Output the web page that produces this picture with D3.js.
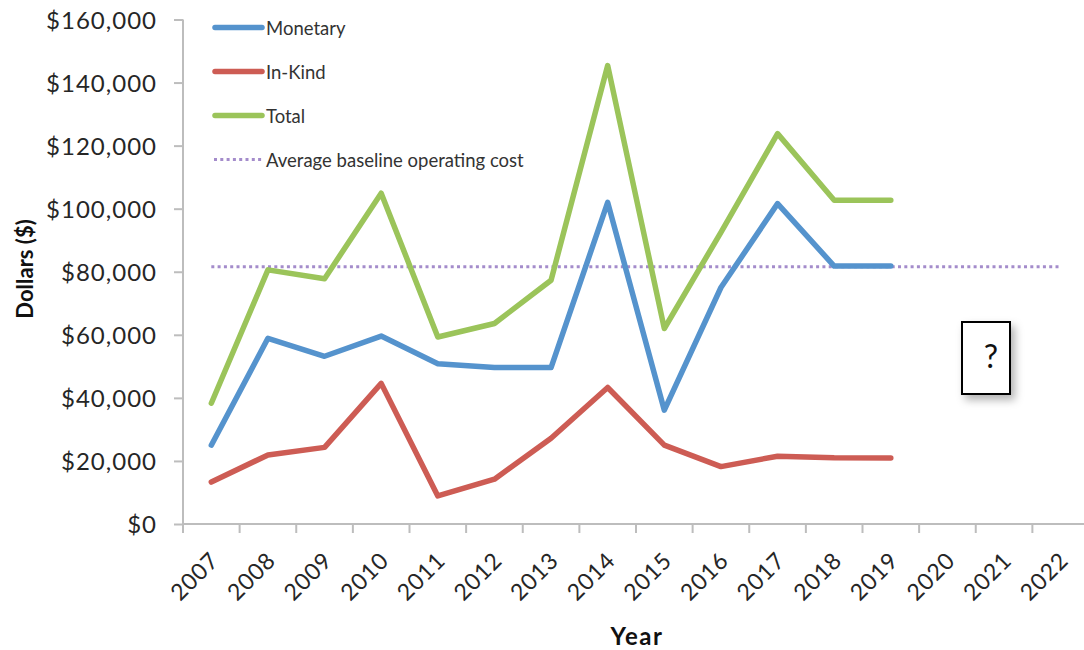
<!DOCTYPE html>
<html>
<head>
<meta charset="utf-8">
<script src="https://cdn.jsdelivr.net/npm/d3@7"></script>
<style>
  html, body { margin: 0; padding: 0; background: #fff; }
  svg { display: block; font-family: Lato, "Open Sans", sans-serif; }
</style>
</head>
<body>
<svg id="chart" width="1084" height="650"></svg>
<script>
// Funding by year: monetary, in-kind, total, and the average baseline operating cost
const years = ["2007","2008","2009","2010","2011","2012","2013","2014","2015","2016","2017","2018","2019","2020","2021","2022"];
const monetary = [25000, 58900, 53200, 59600, 50800, 49600, 49600, 102000, 36100, 75000, 101600, 81800, 81800];
const inKind   = [13300, 21900, 24300, 44600, 8900, 14200, 27200, 43300, 25000, 18200, 21500, 21000, 20900];
const total    = [38300, 80600, 77800, 104900, 59300, 63600, 77300, 145400, 62000, 92500, 123800, 102700, 102700];
const baseline = years.map(() => 81600);
const yTicks = [0, 20000, 40000, 60000, 80000, 100000, 120000, 140000, 160000];

const seriesNames = ["Monetary", "In-Kind", "Total", "Average baseline operating cost"];
const colors = { "Monetary": "#5593cd", "In-Kind": "#cd5c54", "Total": "#9bc45a", "Average baseline operating cost": "#a48ccb" };

const svg = d3.select("#chart");
const plot = { left: 183, right: 1089, top: 19.5, bottom: 524 };

const x = d3.scaleBand().domain(years).range([plot.left, plot.right]).padding(0);
const y = d3.scaleLinear().domain([0, 160000]).range([plot.bottom, plot.top]);
const cx = d => x(d) + x.bandwidth() / 2;

const axisColor = "#bdbdbd";
const textColor = "#262626";

// Y axis
const yAxis = svg.append("g")
  .attr("transform", `translate(${plot.left},0)`)
  .call(d3.axisLeft(y).tickValues(yTicks).tickFormat(d3.format("$,")).tickSize(9).tickPadding(17));
yAxis.attr("font-family", null).attr("font-size", null);
yAxis.select(".domain").attr("stroke", axisColor).attr("stroke-width", 2).attr("d", `M0,${plot.top}V${plot.bottom}`);
yAxis.selectAll(".tick line").attr("stroke", axisColor).attr("stroke-width", 2);
yAxis.selectAll(".tick text").attr("fill", textColor)
  .style("font-size", "24px").style("letter-spacing", "1px").attr("dy", "0.36em");

// X axis line with category boundary ticks
const xg = svg.append("g");
xg.append("line")
  .attr("x1", plot.left - 1).attr("x2", plot.right)
  .attr("y1", plot.bottom).attr("y2", plot.bottom)
  .attr("stroke", axisColor).attr("stroke-width", 2);
const bounds = years.map(d => x(d)).concat([x(years[years.length - 1]) + x.bandwidth()]);
xg.selectAll("line.tk").data(bounds).join("line").attr("class", "tk")
  .attr("x1", d => d).attr("x2", d => d)
  .attr("y1", plot.bottom).attr("y2", plot.bottom + 9)
  .attr("stroke", axisColor).attr("stroke-width", 2);
xg.selectAll("text.yr").data(years).join("text").attr("class", "yr")
  .attr("transform", d => `translate(${cx(d) + 9},${plot.bottom + 38}) rotate(-45)`)
  .attr("text-anchor", "end")
  .attr("fill", textColor)
  .style("font-size", "23px").style("letter-spacing", "0.8px")
  .text(d => d);

// Axis titles
svg.append("text")
  .attr("x", 637).attr("y", 645)
  .attr("text-anchor", "middle").style("font-size", "24px").style("font-weight", "bold")
  .style("letter-spacing", "1.5px")
  .attr("fill", "#111").text("Year");
svg.append("text")
  .attr("transform", `translate(33,269) rotate(-90)`)
  .attr("text-anchor", "middle").style("font-size", "22px").style("font-weight", "bold")
  .attr("fill", "#111").text("Dollars ($)");

// Lines
const line = d3.line().x((d, i) => cx(years[i])).y(d => y(d));
svg.append("path").datum(baseline).attr("d", line)
  .attr("fill", "none").attr("stroke", colors["Average baseline operating cost"])
  .attr("stroke-width", 3).attr("stroke-dasharray", "3,3.3");
[["Total", total], ["Monetary", monetary], ["In-Kind", inKind]].forEach(([name, vals]) => {
  svg.append("path").datum(vals).attr("d", line)
    .attr("fill", "none").attr("stroke", colors[name])
    .attr("stroke-width", 5.5).attr("stroke-linejoin", "round").attr("stroke-linecap", "round");
});

// Legend
const legend = svg.append("g");
const legY = [27.5, 71.5, 115.5, 159.5];
seriesNames.forEach((name, i) => {
  const g = legend.append("g").attr("transform", `translate(0,${legY[i]})`);
  if (i < 3) {
    g.append("line").attr("x1", 215).attr("x2", 262).attr("y1", 0).attr("y2", 0)
      .attr("stroke", colors[name]).attr("stroke-width", 5.5).attr("stroke-linecap", "round");
  } else {
    g.append("line").attr("x1", 214).attr("x2", 262).attr("y1", 0).attr("y2", 0)
      .attr("stroke", colors[name]).attr("stroke-width", 3).attr("stroke-dasharray", "3,3.3");
  }
  g.append("text").attr("x", 266).attr("y", 1).attr("dy", "0.35em")
    .style("font-size", "18.5px").attr("fill", "#333").text(name);
});

// Question box with soft shadow
const defs = svg.append("defs");
const f = defs.append("filter").attr("id", "shadow").attr("x", "-30%").attr("y", "-30%").attr("width", "160%").attr("height", "160%");
f.append("feDropShadow").attr("dx", 4).attr("dy", 5).attr("stdDeviation", 4).attr("flood-color", "#000").attr("flood-opacity", 0.3);
svg.append("rect").attr("x", 962).attr("y", 322).attr("width", 48).attr("height", 72)
  .attr("fill", "#fff").attr("stroke", "#000").attr("stroke-width", 2).attr("filter", "url(#shadow)");
svg.append("text").attr("x", 991).attr("y", 368).attr("text-anchor", "middle")
  .style("font-size", "32px").attr("fill", "#111").text("?");
</script>
</body>
</html>
